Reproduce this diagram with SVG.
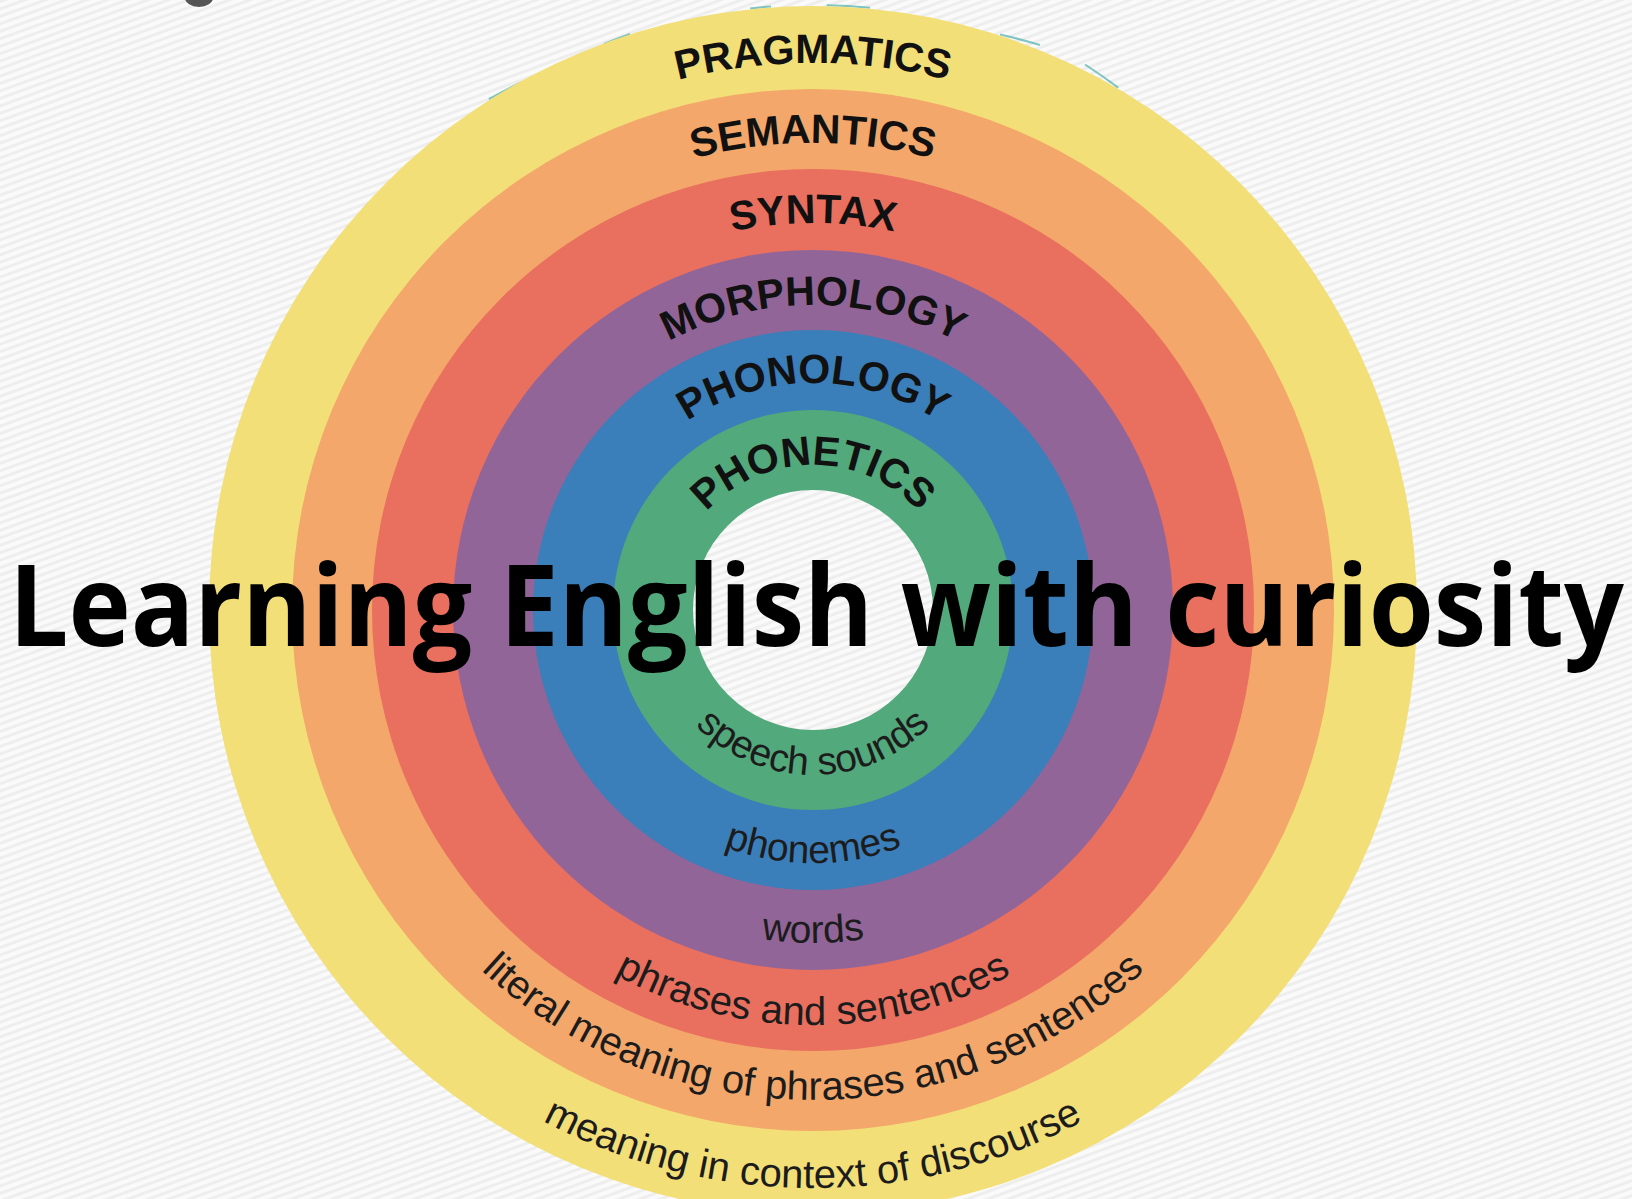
<svg xmlns="http://www.w3.org/2000/svg" width="1632" height="1199" viewBox="0 0 1632 1199">
  <defs>
    <pattern id="stripes" patternUnits="userSpaceOnUse" width="40" height="7" patternTransform="rotate(-20)">
      <rect x="0" y="0" width="40" height="7" fill="#FAFAFA"/>
      <rect x="0" y="0" width="40" height="3" fill="#EEEEEE"/>
    </pattern>
    <path id="p-prag" d="M 266 610 A 547 547 0 0 1 1360 610"/>
    <path id="p-sem" d="M 346 610 A 467 467 0 0 1 1280 610"/>
    <path id="p-syn" d="M 426 610 A 387 387 0 0 1 1200 610"/>
    <path id="p-mor" d="M 508 610 A 305 305 0 0 1 1118 610"/>
    <path id="p-pho" d="M 586 610 A 227 227 0 0 1 1040 610"/>
    <path id="p-phn" d="M 668 610 A 145 145 0 0 1 958 610"/>
    <path id="b-speech" d="M 648 610 A 165 165 0 0 0 978 610"/>
    <path id="b-phonemes" d="M 560 610 A 253 253 0 0 0 1066 610"/>
    <path id="b-words" d="M 480 610 A 333 333 0 0 0 1146 610"/>
    <path id="b-phrases" d="M 398 610 A 415 415 0 0 0 1228 610"/>
    <path id="b-literal" d="M 323 610 A 490 490 0 0 0 1303 610"/>
    <path id="b-context" d="M 235 610 A 578 578 0 0 0 1391 610"/>
  </defs>
  <style>
    .top { font-family: "Liberation Sans", Arial, sans-serif; font-weight: 700; font-size: 41px; fill: #111111; }
    .bot { font-family: "Liberation Sans", Arial, sans-serif; font-weight: 400; font-size: 39px; fill: #1c1c1c; }
    .big { font-size: 40px; }
    .teal { fill: none; stroke: #55B4B0; stroke-width: 2; stroke-opacity: 0.75; }
    .title { font-family: "Open Sans", "Noto Sans", sans-serif; font-weight: 700; font-size: 113px; fill: #000000; }
  </style>

  <rect id="background" x="0" y="0" width="1632" height="1199" fill="url(#stripes)"/>
  <ellipse cx="199" cy="-2" rx="14" ry="9" fill="#555555"/>

  <g id="teal-edges">
    <path class="teal" d="M 488.8 99.2 A 605 605 0 0 1 522 82"/>
    <path class="teal" d="M 604 44 A 605 605 0 0 1 630 34"/>
    <path class="teal" d="M 750 8.5 A 605 605 0 0 1 771 6.5"/>
    <path class="teal" d="M 826.7 5.2 A 605 605 0 0 1 870 7.7"/>
    <path class="teal" d="M 1000 34.5 A 605 605 0 0 1 1040 45"/>
    <path class="teal" d="M 1085 64.5 A 605 605 0 0 1 1118.2 87.6"/>
  </g>

  <g id="pragmatics">
    <circle cx="813" cy="610" r="604" fill="#F3DF78"/>
    <text class="top"><textPath href="#p-prag" startOffset="50%" text-anchor="middle">PRAGMATICS</textPath></text>
  </g>
  <g id="semantics">
    <circle cx="813" cy="610" r="521" fill="#F3A76A"/>
    <text class="top"><textPath href="#p-sem" startOffset="50%" text-anchor="middle">SEMANTICS</textPath></text>
  </g>
  <g id="syntax">
    <circle cx="813" cy="610" r="441" fill="#E96F5E"/>
    <text class="top"><textPath href="#p-syn" startOffset="50%" text-anchor="middle">SYNTAX</textPath></text>
  </g>
  <g id="morphology">
    <circle cx="813" cy="610" r="360" fill="#926599"/>
    <text class="top"><textPath href="#p-mor" startOffset="50%" text-anchor="middle">MORPHOLOGY</textPath></text>
  </g>
  <g id="phonology">
    <circle cx="813" cy="610" r="280" fill="#3A7EBA"/>
    <text class="top"><textPath href="#p-pho" startOffset="50%" text-anchor="middle">PHONOLOGY</textPath></text>
  </g>
  <g id="phonetics">
    <circle cx="813" cy="610" r="200" fill="#52A97B"/>
    <text class="top"><textPath href="#p-phn" startOffset="50%" text-anchor="middle">PHONETICS</textPath></text>
  </g>
  <g id="center-hole">
    <circle cx="813" cy="610" r="120" fill="url(#stripes)"/>
  </g>

  <g id="bottom-labels">
    <text class="bot"><textPath href="#b-speech" startOffset="50%" text-anchor="middle">speech sounds</textPath></text>
    <text class="bot"><textPath href="#b-phonemes" startOffset="50%" text-anchor="middle">phonemes</textPath></text>
    <text class="bot"><textPath href="#b-words" startOffset="50%" text-anchor="middle">words</textPath></text>
    <text class="bot big"><textPath href="#b-phrases" startOffset="50%" text-anchor="middle">phrases and sentences</textPath></text>
    <text class="bot big"><textPath href="#b-literal" startOffset="50%" text-anchor="middle">literal meaning of phrases and sentences</textPath></text>
    <text class="bot big"><textPath href="#b-context" startOffset="50%" text-anchor="middle">meaning in context of discourse</textPath></text>
  </g>

  <g id="connectors"/>

  <g id="title">
    <text class="title" x="9" y="646" textLength="1615" lengthAdjust="spacingAndGlyphs">Learning English with curiosity</text>
  </g>
</svg>
